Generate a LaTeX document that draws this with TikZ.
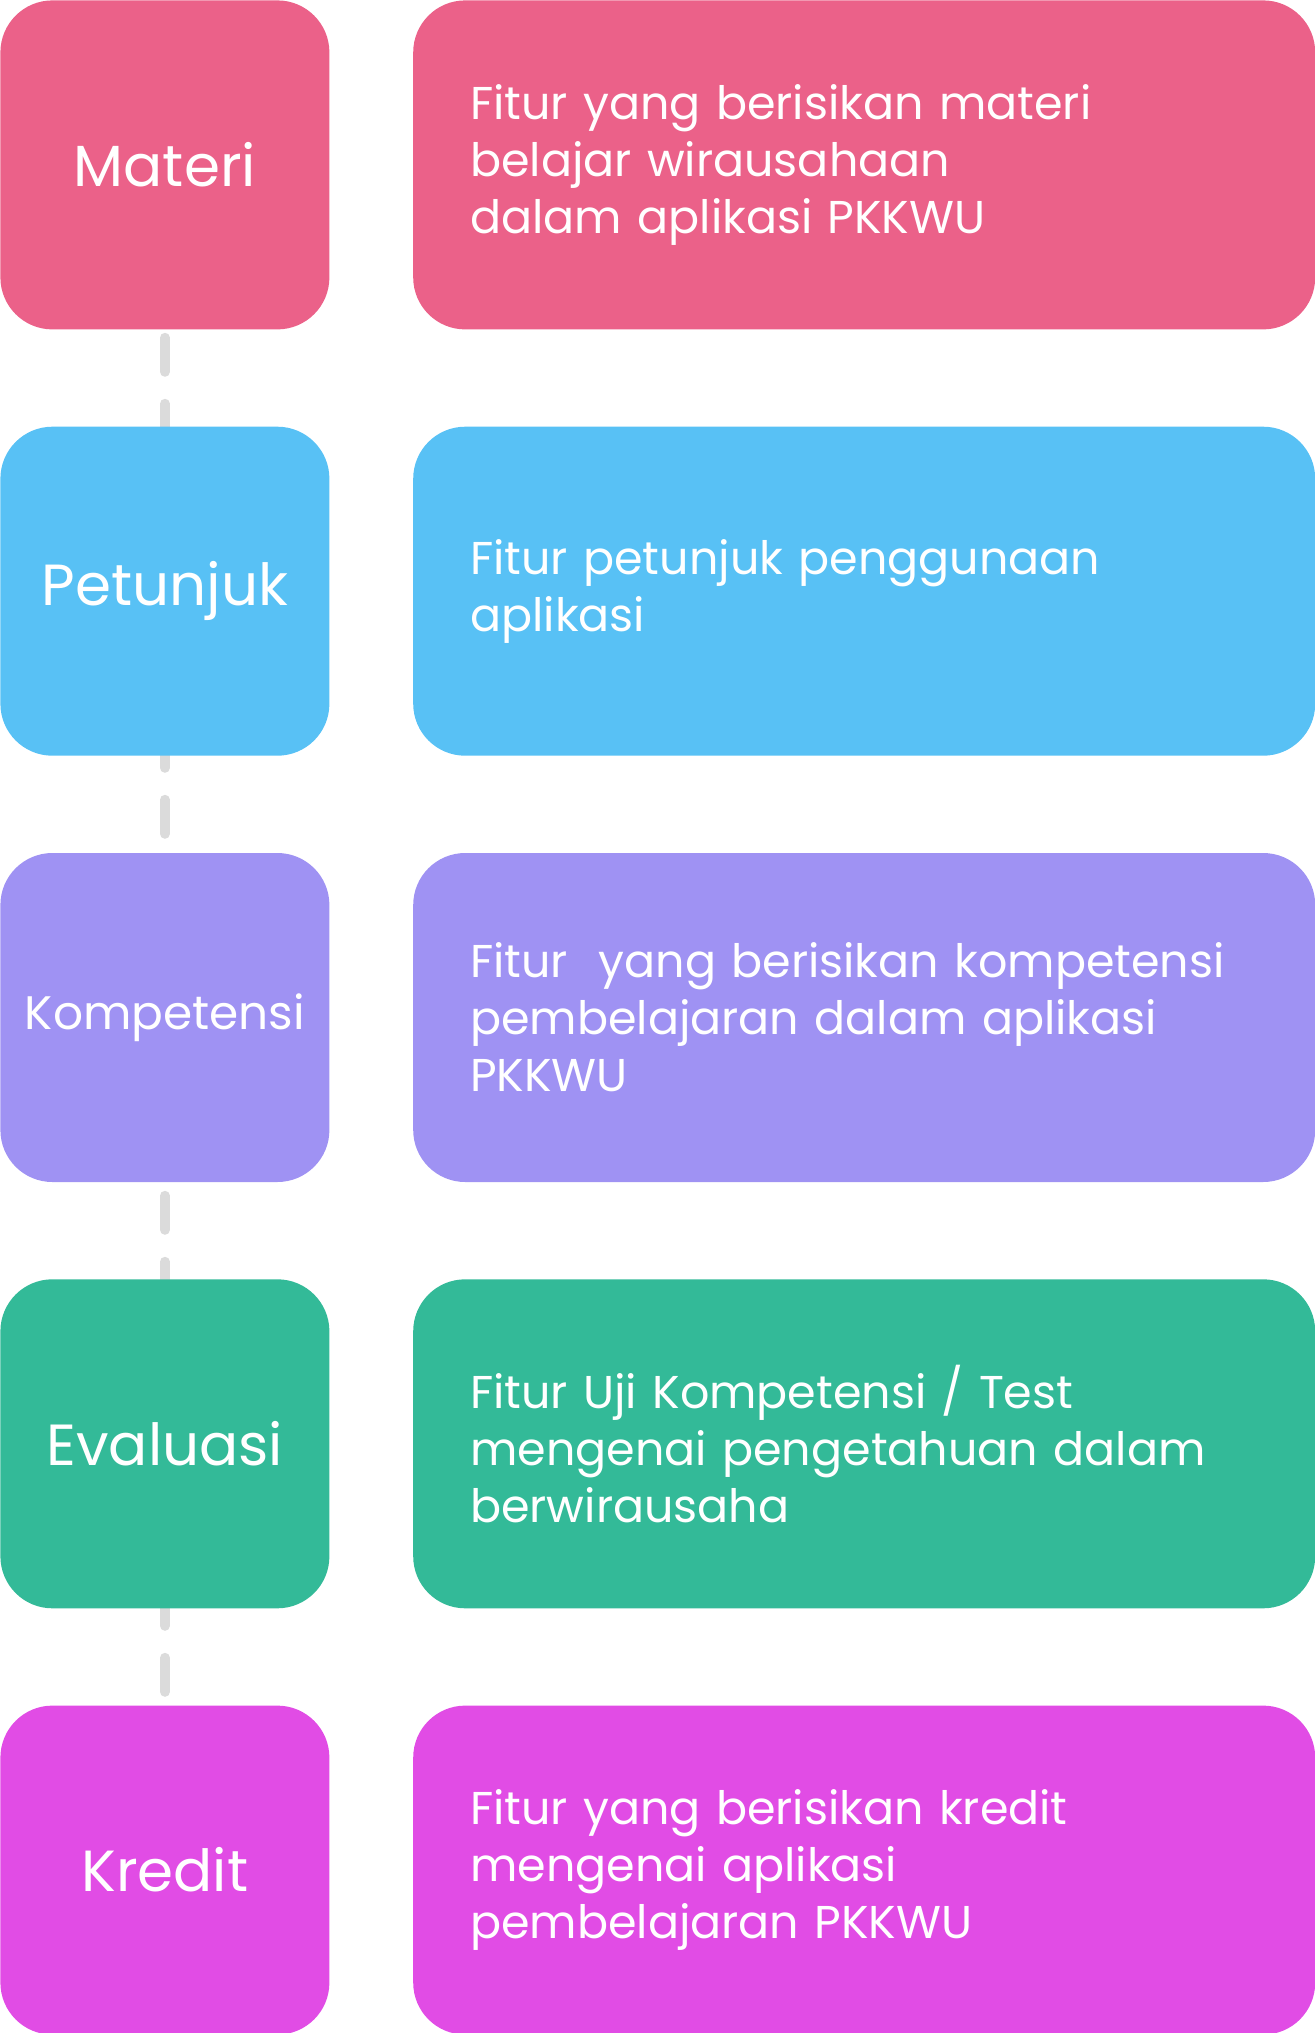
\documentclass[tikz,border=0pt]{standalone}
\usepackage{fontspec}
\setmainfont{Poppins}
\usepackage{xcolor}
\usetikzlibrary{positioning,backgrounds}

\definecolor{pinkbox}{HTML}{EB6189}
\definecolor{bluebox}{HTML}{58C1F5}
\definecolor{purplebox}{HTML}{9F92F3}
\definecolor{greenbox}{HTML}{33BA98}
\definecolor{magentabox}{HTML}{E14CE5}
\definecolor{dashgrey}{HTML}{DBDBDB}

\begin{document}
\begin{tikzpicture}[node distance=48.25pt and 41.5pt,
      labelbox/.style={rectangle,rounded corners=26pt,inner sep=0pt,
        minimum width=164.5pt,minimum height=164.5pt,text=white,
        font=\fontsize{29}{34}\selectfont},
      descbox/.style={rectangle,rounded corners=26pt,inner xsep=28.5pt,inner ysep=0pt,
        text width=394pt,minimum height=164.5pt,align=left,text=white,
        font=\fontsize{23}{28.5}\selectfont},
      dashline/.style={dashgrey,line width=5pt,line cap=round,
        dash pattern=on 17pt off 16pt,dash phase=29pt}]
      \useasboundingbox (0,0) rectangle (657pt,-1016.5pt);
      % left column
      \node[labelbox,fill=pinkbox,anchor=north west] (materi) at (0,0) {Materi};
      \node[labelbox,fill=bluebox,below=of materi] (petunjuk) {Petunjuk};
      \node[labelbox,fill=purplebox,below=of petunjuk,font=\fontsize{23.5}{28}\selectfont] (kompetensi) {Kompetensi};
      \node[labelbox,fill=greenbox,below=of kompetensi] (evaluasi) {Evaluasi};
      \node[labelbox,fill=magentabox,below=of evaluasi] (kredit) {Kredit};
      % right column
      \node[descbox,fill=pinkbox,right=of materi] (materiDesc)
        {Fitur yang berisikan materi\\belajar wirausahaan\\dalam aplikasi PKKWU};
      \node[descbox,fill=bluebox,right=of petunjuk] (petunjukDesc)
        {Fitur petunjuk penggunaan\\aplikasi};
      \node[descbox,fill=purplebox,right=of kompetensi] (kompetensiDesc)
        {Fitur \ yang berisikan kompetensi\\pembelajaran dalam aplikasi\\PKKWU};
      \node[descbox,fill=greenbox,right=of evaluasi] (evaluasiDesc)
        {Fitur Uji Kompetensi / Test\\mengenai pengetahuan dalam\\berwirausaha};
      \node[descbox,fill=magentabox,right=of kredit] (kreditDesc)
        {Fitur yang berisikan kredit\\mengenai aplikasi\\pembelajaran PKKWU};
      % timeline
      \begin{scope}[on background layer]
        \draw[dashline] (materi.south) -- (kredit.north);
      \end{scope}
\end{tikzpicture}
\end{document}
